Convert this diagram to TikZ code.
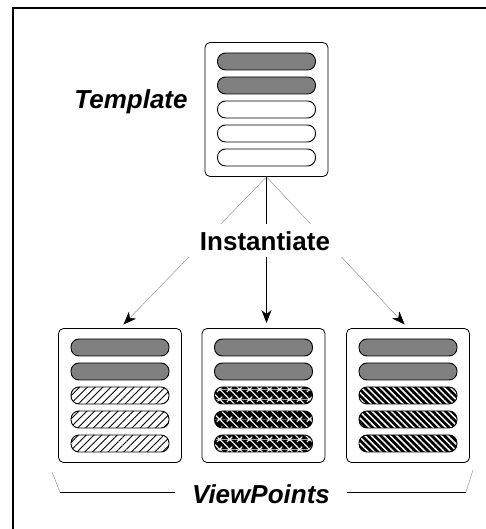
\documentclass[tikz,border=0pt]{standalone}
\usepackage{fontspec}
\setmainfont{Liberation Sans}
\usetikzlibrary{arrows.meta,patterns,patterns.meta}
\definecolor{barGray}{RGB}{128,128,128}
\definecolor{lineGray}{RGB}{150,150,150}

\tikzdeclarepattern{
  name=weave, type=colored,
  bounding box={(0pt,0pt) and (10pt,10pt)},
  tile size={(10pt,10pt)},
  code={
    \fill[black] (0pt,0pt) rectangle (10pt,10pt);
    \draw[white,line width=1.2pt] (0pt,10pt) -- (10pt,0pt);
    \draw[white,line width=1.2pt] (0pt,0pt) -- (2.5pt,2.5pt) (7.5pt,7.5pt) -- (10pt,10pt);
  }
}

\begin{document}
\begin{tikzpicture}[x=1pt,y=1pt]

%
% Styles
%
\tikzstyle{card} = [rectangle,draw,line width=0.8pt,rounded corners=5pt,minimum width=123pt,minimum height=134pt,inner sep=0pt]
\tikzstyle{bar} = [rectangle,draw,line width=0.9pt,rounded corners=8pt,minimum width=98pt,minimum height=17pt,inner sep=0pt]
\tikzstyle{solidbar} = [bar,fill=barGray]
\tikzstyle{hatchA} = [bar,pattern={Lines[angle=45,distance=5.5pt,line width=0.9pt]}]
\tikzstyle{hatchB} = [bar,pattern=weave]
\tikzstyle{hatchC} = [bar,preaction={fill=black},pattern={Lines[angle=-45,distance=4.5pt,line width=1.5pt]},pattern color=white]
\tikzstyle{title} = [font=\bfseries\itshape\fontsize{26}{30}\selectfont]
\tikzstyle{diag} = [-{Stealth[length=13pt,width=10pt,inset=4pt,color=black]},lineGray,line width=0.5pt,shorten >=5pt]
\tikzstyle{vert} = [-{Stealth[length=13pt,width=10pt,inset=4pt]},black,line width=1.1pt,shorten >=5pt]

\useasboundingbox (0,0) rectangle (486,529);

% frame
\draw[line width=2.5pt] (13,0) -- (13,521) -- (486,521);

% template and viewpoints
\node[card] (tpl) at (266.5,419.5) {};
\node[card] (vpa) at (120,133.5) {};
\node[card] (vpb) at (263.5,133.5) {};
\node[card] (vpc) at (408,133.5) {};

\foreach \dy/\i in {48/1,24/2} {
  \node[solidbar] (tpl-\i) at ([yshift=\dy pt]tpl.center) {};
}
\foreach \dy/\i in {0/3,-24/4,-48/5} {
  \node[bar,fill=white] (tpl-\i) at ([yshift=\dy pt]tpl.center) {};
}
\foreach \b/\s in {vpa/hatchA,vpb/hatchB,vpc/hatchC} {
  \foreach \dy/\i in {48/1,24/2}
    \node[solidbar] (\b-\i) at ([yshift=\dy pt]\b.center) {};
  \foreach \dy/\i in {0/3,-24/4,-48/5}
    \node[\s] (\b-\i) at ([yshift=\dy pt]\b.center) {};
}

\node[title,anchor=base] (tlabel) at (131,420) {Template};

% instantiation
\draw[diag] (tpl.south) -- (vpa.north);
\draw[vert] (tpl.south) -- (tpl.south |- vpb.north);
\draw[diag] (tpl.south) -- (vpc.north);
\node[fill=white,minimum width=180pt,minimum height=33pt,font=\bfseries\fontsize{26}{30}\selectfont] (inst) at (265,288) {Instantiate};

% viewpoints bracket
\coordinate (bl) at (52,57);
\coordinate (blb) at (60,37);
\coordinate (brb) at (466,37);
\coordinate (br) at (473,59);
\draw[lineGray,line width=0.5pt] (bl) -- (blb);
\draw[lineGray,line width=0.5pt] (brb) -- (br);
\draw[line width=0.7pt] (blb) -- (brb);
\node[title,fill=white,minimum width=172pt,inner sep=1pt] (vplabel) at (261,35) {ViewPoints};

\end{tikzpicture}
\end{document}
